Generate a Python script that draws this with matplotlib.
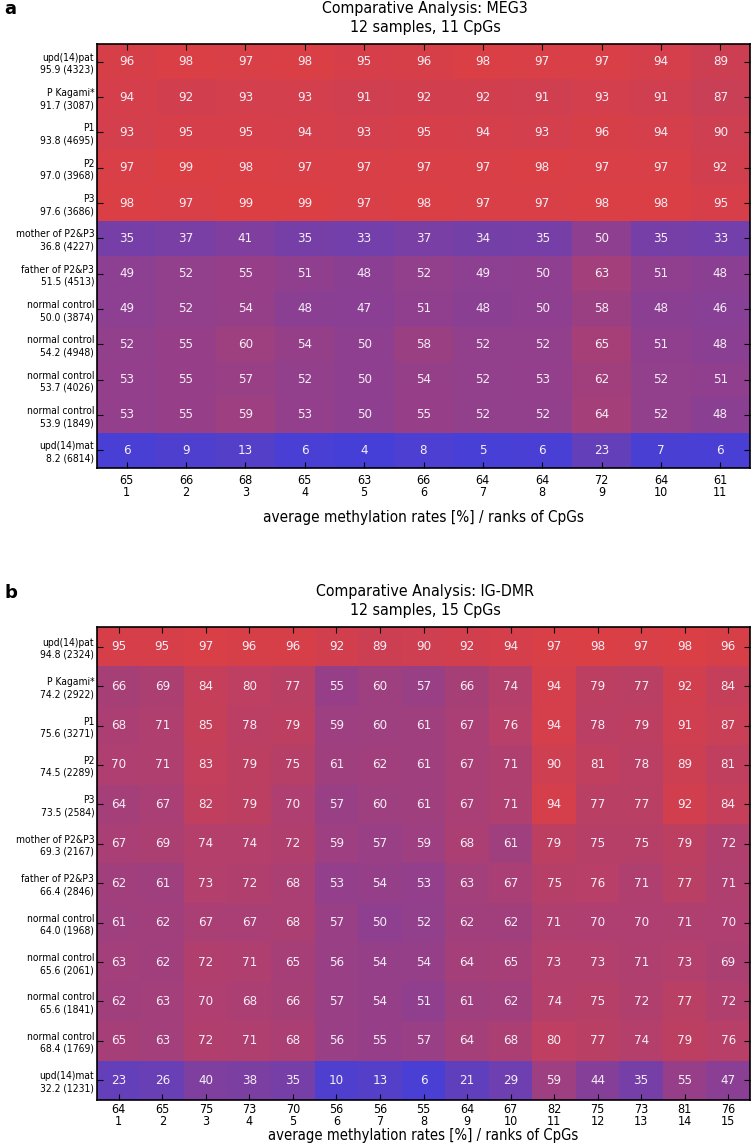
import numpy as np
import matplotlib
matplotlib.use("Agg")
import matplotlib.pyplot as plt
from matplotlib.colors import LinearSegmentedColormap
from matplotlib import font_manager as fm

sample_names = ["upd(14)pat", "P Kagami*", "P1", "P2", "P3", "mother of P2&P3",
                "father of P2&P3", "normal control", "normal control",
                "normal control", "normal control", "upd(14)mat"]

# Panel a: MEG3
meg3_stats = ["95.9 (4323)", "91.7 (3087)", "93.8 (4695)", "97.0 (3968)", "97.6 (3686)",
              "36.8 (4227)", "51.5 (4513)", "50.0 (3874)", "54.2 (4948)", "53.7 (4026)",
              "53.9 (1849)", "8.2 (6814)"]
meg3_values = [
    [96, 98, 97, 98, 95, 96, 98, 97, 97, 94, 89],
    [94, 92, 93, 93, 91, 92, 92, 91, 93, 91, 87],
    [93, 95, 95, 94, 93, 95, 94, 93, 96, 94, 90],
    [97, 99, 98, 97, 97, 97, 97, 98, 97, 97, 92],
    [98, 97, 99, 99, 97, 98, 97, 97, 98, 98, 95],
    [35, 37, 41, 35, 33, 37, 34, 35, 50, 35, 33],
    [49, 52, 55, 51, 48, 52, 49, 50, 63, 51, 48],
    [49, 52, 54, 48, 47, 51, 48, 50, 58, 48, 46],
    [52, 55, 60, 54, 50, 58, 52, 52, 65, 51, 48],
    [53, 55, 57, 52, 50, 54, 52, 53, 62, 52, 51],
    [53, 55, 59, 53, 50, 55, 52, 52, 64, 52, 48],
    [6, 9, 13, 6, 4, 8, 5, 6, 23, 7, 6],
]
meg3_avg = [65, 66, 68, 65, 63, 66, 64, 64, 72, 64, 61]

# Panel b: IG-DMR
igdmr_stats = ["94.8 (2324)", "74.2 (2922)", "75.6 (3271)", "74.5 (2289)", "73.5 (2584)",
               "69.3 (2167)", "66.4 (2846)", "64.0 (1968)", "65.6 (2061)", "65.6 (1841)",
               "68.4 (1769)", "32.2 (1231)"]
igdmr_values = [
    [95, 95, 97, 96, 96, 92, 89, 90, 92, 94, 97, 98, 97, 98, 96],
    [66, 69, 84, 80, 77, 55, 60, 57, 66, 74, 94, 79, 77, 92, 84],
    [68, 71, 85, 78, 79, 59, 60, 61, 67, 76, 94, 78, 79, 91, 87],
    [70, 71, 83, 79, 75, 61, 62, 61, 67, 71, 90, 81, 78, 89, 81],
    [64, 67, 82, 79, 70, 57, 60, 61, 67, 71, 94, 77, 77, 92, 84],
    [67, 69, 74, 74, 72, 59, 57, 59, 68, 61, 79, 75, 75, 79, 72],
    [62, 61, 73, 72, 68, 53, 54, 53, 63, 67, 75, 76, 71, 77, 71],
    [61, 62, 67, 67, 68, 57, 50, 52, 62, 62, 71, 70, 70, 71, 70],
    [63, 62, 72, 71, 65, 56, 54, 54, 64, 65, 73, 73, 71, 73, 69],
    [62, 63, 70, 68, 66, 57, 54, 51, 61, 62, 74, 75, 72, 77, 72],
    [65, 63, 72, 71, 68, 56, 55, 57, 64, 68, 80, 77, 74, 79, 76],
    [23, 26, 40, 38, 35, 10, 13, 6, 21, 29, 59, 44, 35, 55, 47],
]
igdmr_avg = [64, 65, 75, 73, 70, 56, 56, 55, 64, 67, 82, 75, 73, 81, 76]

cmap = LinearSegmentedColormap.from_list("br", [(0.25, 0.25, 0.87), (0.87, 0.25, 0.26)])

# pick a condensed sans font if available
cond_path = None
for key in ("DejaVuSansCondensed.ttf", "LiberationSansNarrow-Regular.ttf"):
    for f in fm.fontManager.ttflist:
        if f.fname.endswith(key):
            cond_path = f.fname
            break
    if cond_path:
        break
if cond_path is None:
    import glob
    for pat in ("/usr/share/fonts/**/DejaVuSansCondensed.ttf",
                "/usr/share/fonts/**/LiberationSansNarrow-Regular.ttf"):
        hits = glob.glob(pat, recursive=True)
        if hits:
            cond_path = hits[0]
            break


def fp(size):
    if cond_path:
        return fm.FontProperties(fname=cond_path, size=size)
    return fm.FontProperties(family="DejaVu Sans", size=size * 0.85)


W, H = 752, 1143
fig = plt.figure(figsize=(W / 100, H / 100), dpi=100)


def px_axes(left, top, right, bottom):
    return fig.add_axes([left / W, 1 - bottom / H, (right - left) / W, (bottom - top) / H])


def draw_panel(ax, values, stats, avg, title, letter, letter_y, title_y,
               tick_pad, tick_ls, lab_pad, lab_size):
    data = np.array(values, dtype=float)
    nrow, ncol = data.shape
    ax.imshow(data, cmap=cmap, vmin=0, vmax=100, aspect="auto",
              interpolation="nearest", extent=(0.5, ncol + 0.5, nrow + 0.5, 0.5))
    for i in range(nrow):
        for j in range(ncol):
            ax.text(j + 1, i + 1, f"{int(data[i, j])}", ha="center", va="center",
                    color="#f6eef6", fontproperties=fp(9.5))
    ax.set_xlim(0.5, ncol + 0.5)
    ax.set_ylim(nrow + 0.5, 0.5)
    ax.set_xticks(np.arange(1, ncol + 1))
    ax.set_xticklabels([f"{a}\n{k}" for k, a in enumerate(avg, start=1)],
                       fontproperties=fp(9), linespacing=tick_ls)
    ax.set_yticks(np.arange(1, nrow + 1))
    ax.set_yticklabels([f"{n}\n{s}" for n, s in zip(sample_names, stats)],
                       fontproperties=fp(7.4), linespacing=1.25)
    ax.tick_params(direction="in", top=True, right=True, length=4, width=0.8, pad=2)
    ax.tick_params(axis="x", pad=tick_pad)
    for sp in ax.spines.values():
        sp.set_linewidth(1.2)
    ax.set_xlabel("average methylation rates [%] / ranks of CpGs", fontproperties=fp(lab_size),
                  labelpad=lab_pad)
    fig.text(425 / W, 1 - title_y / H, title, ha="center", va="center",
             fontproperties=fp(11.4), linespacing=1.4)
    fig.text(4 / W, 1 - letter_y / H, letter, ha="left", va="center", fontsize=13,
             fontweight="bold")


ax_a = px_axes(97, 44, 750, 468)
draw_panel(ax_a, meg3_values, meg3_stats, meg3_avg,
           "Comparative Analysis: MEG3\n12 samples, 11 CpGs", "a", 9, 18,
           4, 0.95, 8, 11)

ax_b = px_axes(97, 627, 750, 1100)
draw_panel(ax_b, igdmr_values, igdmr_stats, igdmr_avg,
           "Comparative Analysis: IG-DMR\n12 samples, 15 CpGs", "b", 593, 601,
           2, 0.88, 0, 10.6)

fig.savefig("out.png", dpi=100)
